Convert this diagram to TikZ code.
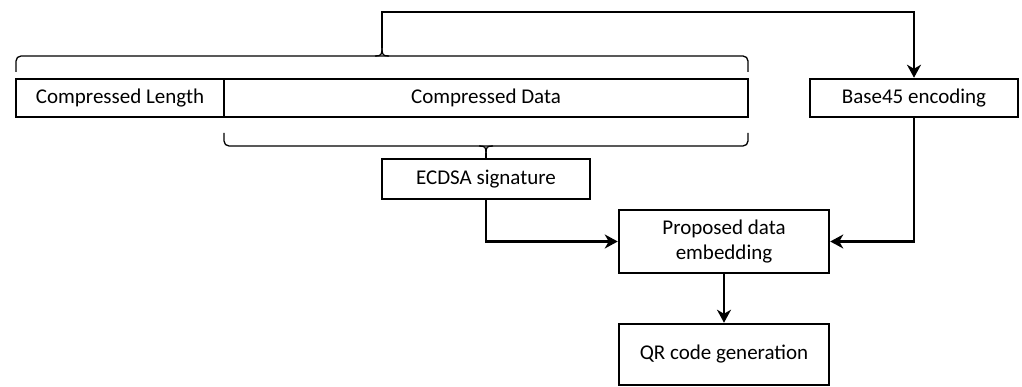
\documentclass[tikz,border=0pt]{standalone}
\usepackage{fontspec}
\setmainfont{Carlito}
\usetikzlibrary{arrows.meta}

\begin{document}
\begin{tikzpicture}[x=1pt, y=-1pt,
		box/.style={draw, line width=2.5pt, minimum width=208pt, minimum height=38pt, inner sep=0pt, align=center, font=\fontsize{21}{25}\selectfont},
		arr/.style={line width=2.5pt, -{Stealth[length=13pt, width=14pt, inset=4pt]}},
		brace/.style={line width=1.3pt, rounded corners=5pt}]
		\useasboundingbox (0,0) rectangle (1022,387);
		
		% Packet fields
		\node[box] (len) at (120, 98) {Compressed Length};
		\node[box, minimum width=524pt] (data) at (486, 98) {Compressed Data};
		\node[box] (b45) at (914, 98) {Base45 encoding};
		
		% Signature and embedding
		\node[box, minimum height=40pt] (ecdsa) at (486, 179) {ECDSA signature};
		\node[box, minimum width=210pt, minimum height=63pt] (embed) at (724, 241.5) {Proposed data\\embedding};
		\node[box, minimum width=210pt, minimum height=61pt] (qr) at (724, 354.5) {QR code generation};
		
		% Brace over the whole packet
		\draw[brace] (16, 72) -- (16, 56) -- (748, 56) -- (748, 72);
		\draw[line width=1.3pt] (375, 56) .. controls (381, 56) and (382, 55) .. (382, 48);
		\draw[line width=1.3pt] (389, 56) .. controls (383, 56) and (382, 55) .. (382, 48);
		\coordinate (tipA) at (382, 48);
		
		% Brace under the compressed data
		\draw[brace] (224, 133) -- (224, 146) -- (748, 146) -- (748, 133);
		\draw[line width=1.3pt] (479, 146) .. controls (485, 146) and (486, 147) .. (486, 153);
		\draw[line width=1.3pt] (493, 146) .. controls (487, 146) and (486, 147) .. (486, 153);
		\coordinate (tipB) at (486, 153);
		\draw[line width=1.3pt] (tipB) -- (ecdsa.north);
		
		% Connectors
		\draw[arr] (tipA) -- (tipA |- 0, 12) -| (b45.north);
		\draw[arr] (ecdsa.south) |- (embed.west);
		\draw[arr] (b45.south) |- (embed.east);
		\draw[arr] (embed.south) -- (qr.north);
	\end{tikzpicture}
\end{document}
